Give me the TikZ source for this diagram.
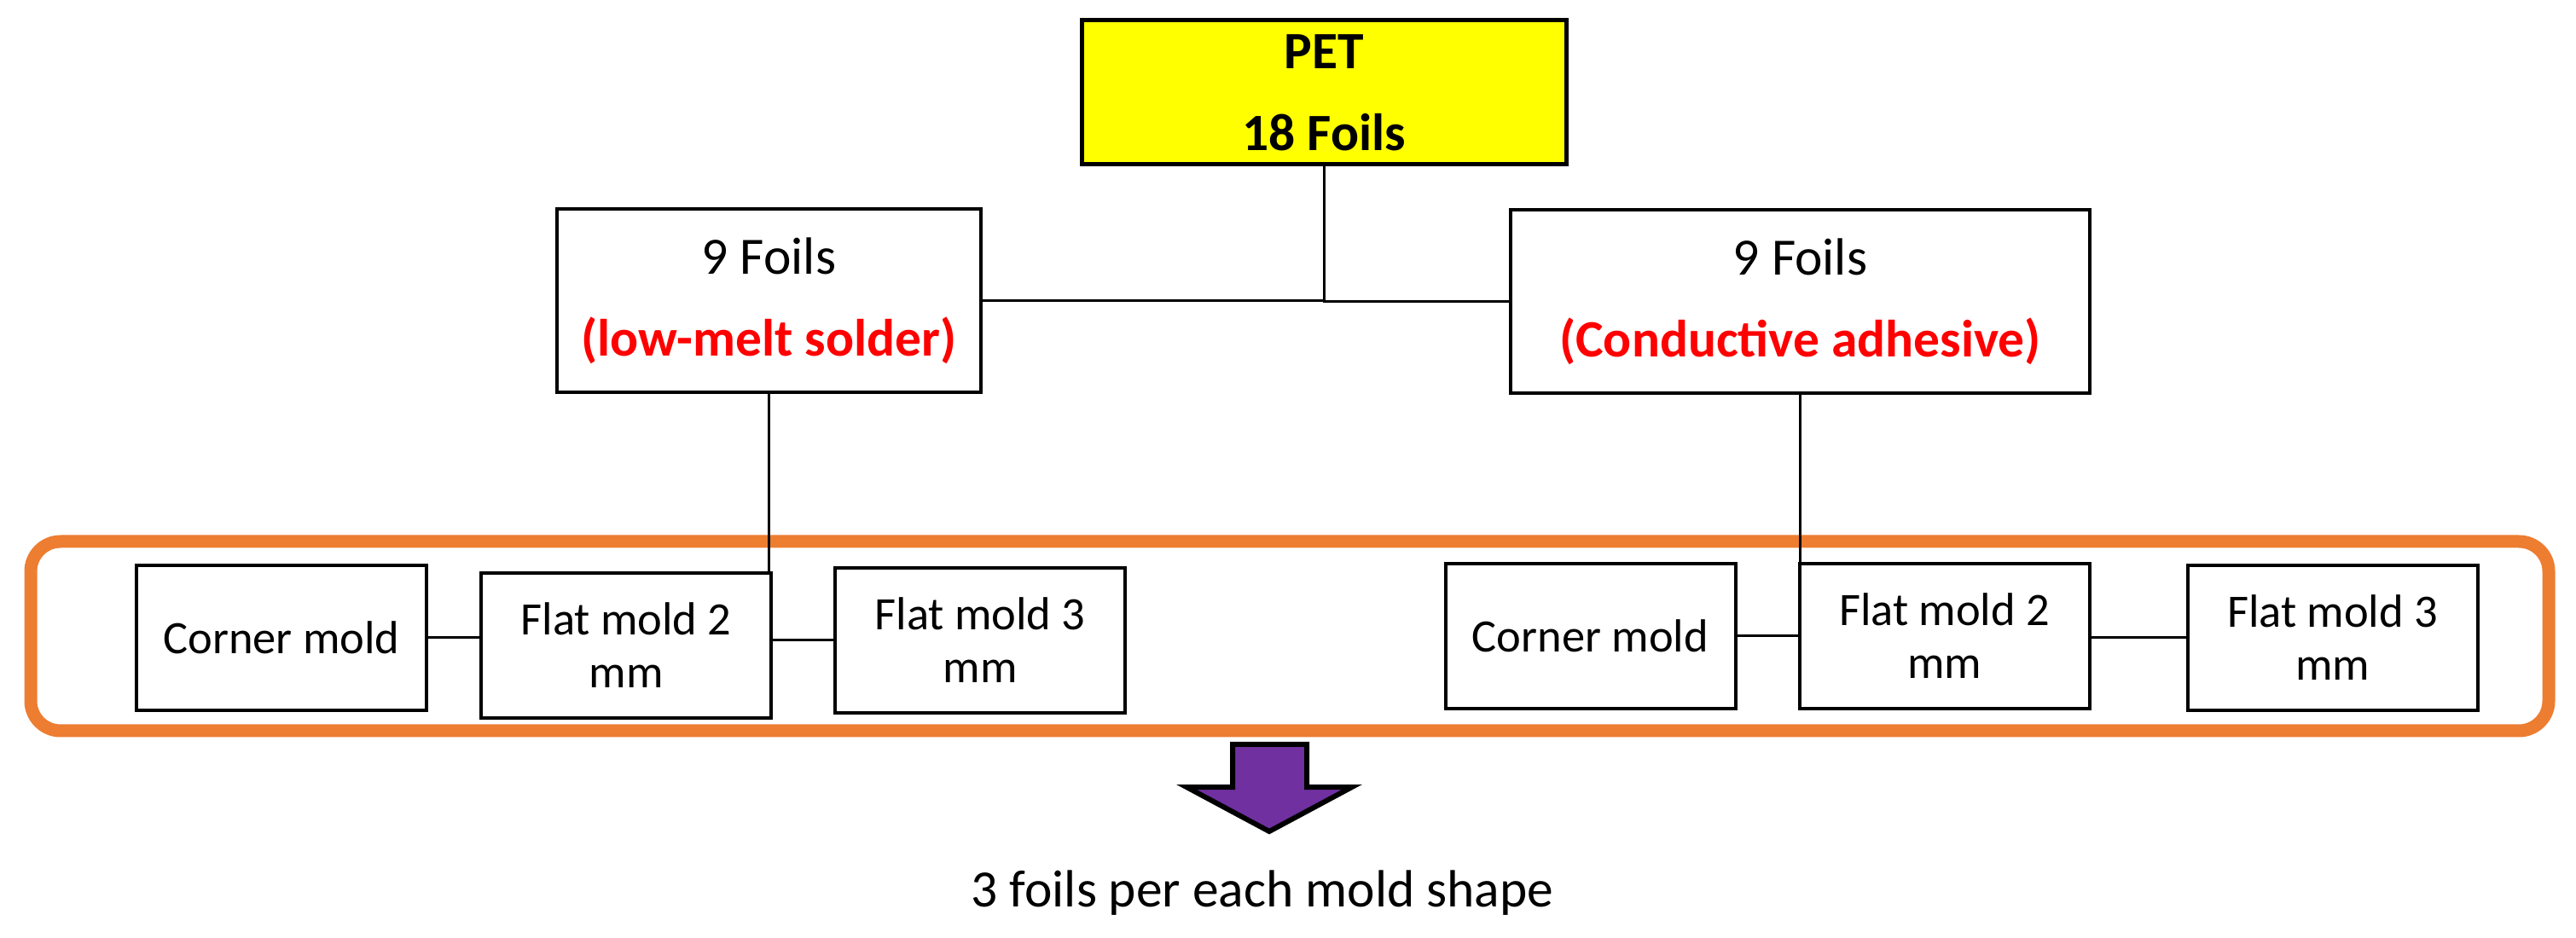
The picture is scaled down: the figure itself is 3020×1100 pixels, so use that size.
\documentclass[tikz,border=0pt]{standalone}
\usepackage{fontspec}
\setmainfont{Carlito}
\usetikzlibrary{calc}
\definecolor{petfill}{HTML}{FFFF00}
\definecolor{jointred}{HTML}{FF0000}
\definecolor{frameline}{HTML}{ED7D31}
\definecolor{arrowfill}{HTML}{7030A0}
\tikzset{
  petblk/.style  = {rectangle, draw=black, fill=petfill, line width=0.5mm, align=center,
                    font=\fontsize{17.5pt}{27.3pt}\selectfont\bfseries,
                    minimum width=56.8mm, minimum height=16.9mm, inner sep=0pt},
  foilblk/.style = {rectangle, draw=black, fill=white, line width=0.4mm, align=center,
                    font=\fontsize{17.5pt}{27.3pt}\selectfont,
                    minimum height=21.5mm, inner sep=0pt},
  moldblk/.style = {rectangle, draw=black, fill=white, line width=0.4mm, align=center,
                    font=\fontsize{15.5pt}{17.6pt}\selectfont,
                    minimum width=34mm, minimum height=17mm, inner sep=0pt},
  notelbl/.style = {font=\fontsize{17.5pt}{21pt}\selectfont, inner sep=0pt},
  link/.style    = {line width=0.3mm, draw=black},
  moldframe/.style = {line width=1.5mm, draw=frameline, rounded corners=3.5mm},
  downarrow/.style = {line width=0.6mm, draw=black, fill=arrowfill, line join=miter},
}
\newcommand{\joint}[1]{{\color{jointred}\bfseries #1}}

\begin{document}
\begin{tikzpicture}[x=0.1mm, y=-0.1mm]
        \useasboundingbox (0,0) rectangle (3020,1100);
        \draw[moldframe] (36,635) rectangle (2988,857);

        \node[petblk] (pet) at (1552,108.5) {PET\\18 Foils};
        \node[foilblk, minimum width=49.7mm] (sol) at (901.5,352.5) {9 Foils\\\joint{(low-melt solder)}};
        \node[foilblk, minimum width=67.9mm] (adh) at (2110.5,353.5) {9 Foils\\\joint{(Conductive adhesive)}};

        \node[moldblk] (cornerL) at (330,748)    {Corner mold};
        \node[moldblk] (flatL2)  at (734,757)    {Flat mold 2\\mm};
        \node[moldblk] (flatL3)  at (1149,751)   {Flat mold 3\\mm};
        \node[moldblk] (cornerR) at (1864.5,746) {Corner mold};
        \node[moldblk] (flatR2)  at (2279.5,746) {Flat mold 2\\mm};
        \node[moldblk] (flatR3)  at (2734.5,748) {Flat mold 3\\mm};

        \draw[link] (pet.south) |- (sol.east);
        \draw[link] (pet.south) |- (adh.west);
        \draw[link] (sol.south) -- (sol.south |- flatL2.north);
        \draw[link] (adh.south) -- (adh.south |- flatR2.north);
        \draw[link] (cornerL.east) -- (cornerL.east -| flatL2.west);
        \draw[link] (flatL3.west) -- (flatL3.west -| flatL2.east);
        \draw[link] (cornerR.east) -- (cornerR.east -| flatR2.west);
        \draw[link] (flatR3.west) -- (flatR3.west -| flatR2.east);

        \draw[downarrow] (1445,873) -- (1532,873) -- (1532,923) -- (1585,923)
            -- (1488,975) -- (1391,923) -- (1445,923) -- cycle;
        \node[notelbl, anchor=base] (note) at (1480,1063) {3 foils per each mold shape};
    \end{tikzpicture}
\end{document}
